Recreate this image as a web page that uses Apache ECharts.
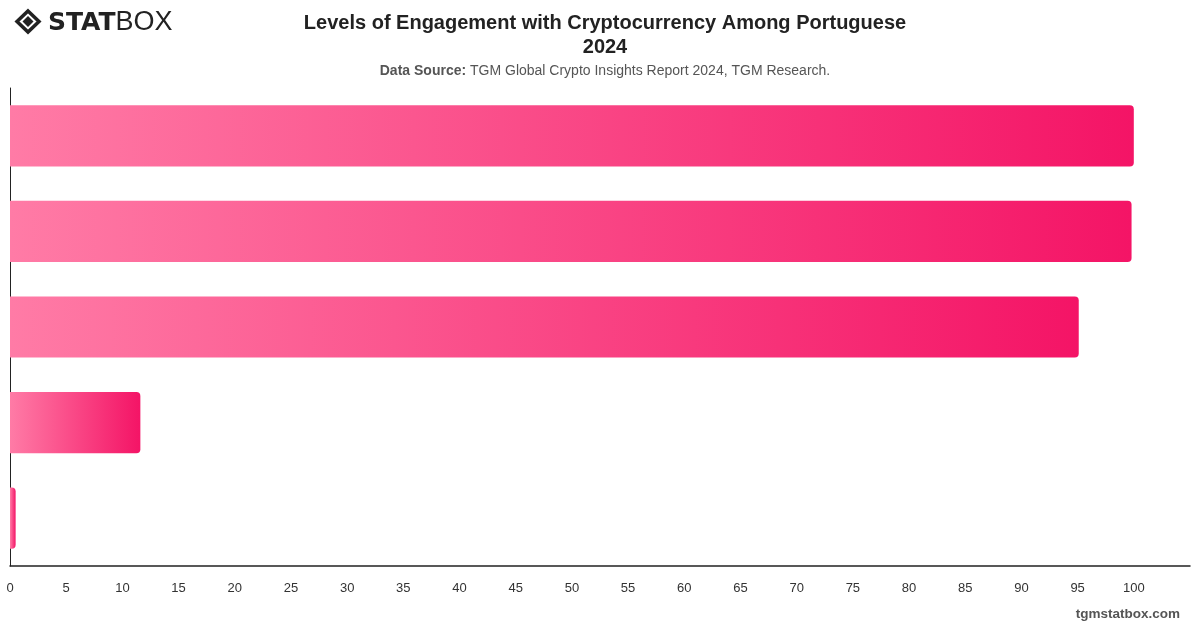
<!DOCTYPE html>
<html>
<head>
<meta charset="utf-8">
<title>Levels of Engagement with Cryptocurrency Among Portuguese 2024</title>
<script src="https://cdn.jsdelivr.net/npm/echarts@6/dist/echarts.min.js"></script>
<style>
  html, body { margin: 0; padding: 0; background: #fff; }
  #chart { width: 1200px; height: 628px; }
</style>
</head>
<body>
<div id="chart"></div>
<script>
// chart data
const categories = ['Aware of cryptocurrency', 'Know what cryptocurrency is', 'Understand how it works', 'Own cryptocurrency', 'Use it for payments'];
const values = [100, 99.8, 95.1, 11.6, 0.5];
const xTicks = [0, 105, 5]; // min, max, interval

const chart = echarts.init(document.getElementById('chart'));

const barGradient = new echarts.graphic.LinearGradient(0, 0, 1, 0, [
  { offset: 0, color: '#ff7ba6' },
  { offset: 1, color: '#f41466' }
]);

const option = {
  animation: false,
  textStyle: { fontFamily: 'Liberation Sans, Arial, sans-serif' },
  title: [
    {
      text: 'Levels of Engagement with Cryptocurrency Among Portuguese\n2024',
      left: 600,
      top: 6,
      textAlign: 'center',
      textStyle: { fontSize: 20, fontWeight: 'bold', color: '#222', lineHeight: 24 }
    },
    {
      text: '{b|Data Source:} TGM Global Crypto Insights Report 2024, TGM Research.',
      left: 600,
      top: 59,
      textAlign: 'center',
      textStyle: {
        fontSize: 14,
        fontWeight: 'normal',
        color: '#555',
        rich: {
          b: { fontSize: 14, fontWeight: 'bold', color: '#555' }
        }
      }
    }
  ],
  grid: { left: 10, right: 10, top: 88, bottom: 62, containLabel: false },
  xAxis: {
    type: 'value',
    min: xTicks[0],
    max: xTicks[1],
    interval: xTicks[2],
    axisLine: { show: true, lineStyle: { color: '#222', width: 1.5 } },
    axisTick: { show: false },
    splitLine: { show: false },
    axisLabel: {
      color: '#333',
      fontSize: 13,
      margin: 16,
      formatter: function(v) { return v > 100 ? '' : v; }
    }
  },
  yAxis: {
    type: 'category',
    data: categories,
    inverse: true,
    axisLine: { show: true, lineStyle: { color: '#222', width: 1 } },
    axisTick: { show: false },
    axisLabel: { show: false }
  },
  series: [{
    type: 'bar',
    data: values,
    barWidth: '64%',
    itemStyle: { color: barGradient, borderRadius: [0, 4, 4, 0] }
  }],
  graphic: [
    // logo mark
    {
      type: 'polygon',
      shape: { points: [[28, 11], [39, 21.5], [28, 32], [17, 21.5]] },
      style: { fill: 'none', stroke: '#222', lineWidth: 3.5 }
    },
    {
      type: 'polygon',
      shape: { points: [[28, 16], [33.5, 21.5], [28, 27], [22.5, 21.5]] },
      style: { fill: '#222' }
    },
    {
      type: 'text',
      x: 48,
      y: 9,
      style: {
        text: '{a|STAT}{b|BOX}',
        rich: {
          a: { fontSize: 25, fontWeight: 900, fill: '#222', fontFamily: 'DejaVu Sans', lineHeight: 28 },
          b: { fontSize: 27, fontWeight: 'normal', fill: '#222', fontFamily: 'Liberation Sans', lineHeight: 28 }
        }
      }
    },
    {
      type: 'text',
      right: 20,
      top: 607,
      style: { text: 'tgmstatbox.com', fontSize: 13.5, fontWeight: 'bold', fill: '#555', fontFamily: 'Liberation Sans, Arial' }
    }
  ]
};

chart.setOption(option);
</script>
</body>
</html>
